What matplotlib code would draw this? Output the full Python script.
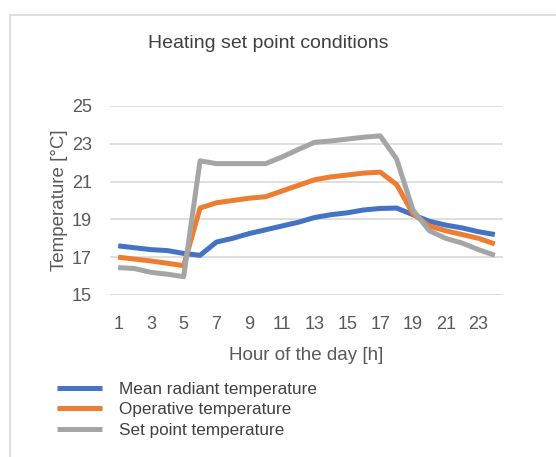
import matplotlib.pyplot as plt
from matplotlib.patches import Rectangle

plt.rcParams['font.family'] = ['Liberation Sans', 'DejaVu Sans']

hours = list(range(1, 25))
mean_radiant = [17.6, 17.5, 17.4, 17.35, 17.2, 17.1, 17.8, 18.0, 18.25, 18.45, 18.65, 18.85,
                19.1, 19.25, 19.35, 19.5, 19.58, 19.6, 19.25, 18.9, 18.7, 18.55, 18.35, 18.2]
operative = [17.0, 16.9, 16.8, 16.68, 16.55, 19.6, 19.88, 20.0, 20.12, 20.2, 20.5, 20.8,
             21.1, 21.25, 21.35, 21.45, 21.5, 20.85, 19.3, 18.65, 18.4, 18.2, 18.0, 17.7]
set_point = [16.45, 16.4, 16.2, 16.1, 15.97, 22.1, 21.95, 21.95, 21.95, 21.95, 22.3, 22.7,
             23.08, 23.15, 23.25, 23.35, 23.42, 22.2, 19.5, 18.4, 18.0, 17.75, 17.4, 17.1]
labels = ['Mean radiant temperature', 'Operative temperature', 'Set point temperature']
colors = ['#4472C4', '#ED7D31', '#A5A5A5']
txt = '#595959'

fig = plt.figure(figsize=(5.56, 4.57), dpi=100)
fig.patches.append(Rectangle((10 / 556, -0.1), 1.2, 1 - 15 / 457 + 0.1, transform=fig.transFigure,
                             fill=False, edgecolor='#d9d9d9', linewidth=1.2))

ax = fig.add_axes([110 / 556, 1 - 295 / 457, 393 / 556, 189 / 457])
for series, lab, col in zip([mean_radiant, operative, set_point], labels, colors):
    ax.plot(hours, series, color=col, linewidth=3.6, label=lab, solid_capstyle='butt')

ax.set_xlim(0.5, 24.5)
ax.set_ylim(15, 25)
ax.set_xticks(range(1, 24, 2))
ax.set_yticks(range(15, 26, 2))
ax.grid(axis='y', color='#d9d9d9', linewidth=1.2)
ax.set_axisbelow(True)
for s in ax.spines.values():
    s.set_visible(False)
ax.tick_params(length=0, labelsize=13, colors=txt)
ax.tick_params(axis='x', pad=15)
ax.tick_params(axis='y', pad=13)
ax.set_xlabel('Hour of the day [h]', fontsize=13.5, color=txt, labelpad=10)
ax.set_ylabel('Temperature [°C]', fontsize=13.5, color=txt, labelpad=3)

fig.text(268 / 556, 1 - 44 / 457, 'Heating set point conditions', ha='center', va='center',
         fontsize=14, color='#404040')

handles, labs = ax.get_legend_handles_labels()
leg = fig.legend(handles, labs, loc='upper left', bbox_to_anchor=(50 / 556, 1 - 375 / 457),
                 frameon=False, fontsize=12.3, handlelength=2.65, handletextpad=1.0,
                 labelspacing=0.33, borderaxespad=0)
for t in leg.get_texts():
    t.set_color('#404040')

fig.savefig('out.png', dpi=100)
